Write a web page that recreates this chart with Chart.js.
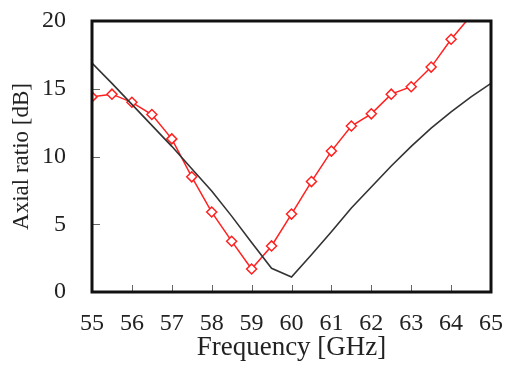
<!DOCTYPE html>
<html>
<head>
<meta charset="utf-8">
<script src="https://cdn.jsdelivr.net/npm/chart.js@4"></script>
<style>
  html, body { margin: 0; padding: 0; background: #fff; }
  canvas { display: block; }
</style>
</head>
<body>
<canvas id="arChart" width="506" height="365"></canvas>
<script>
(function () {
  'use strict';

  // measured axial ratio (red, diamonds)
  const measFreq = [55, 55.5, 56, 56.5, 57, 57.5, 58, 58.5, 59, 59.5, 60, 60.5, 61, 61.5, 62, 62.5, 63, 63.5, 64, 64.5];
  const measAR = [14.4, 14.6, 14.0, 13.1, 11.3, 8.5, 5.9, 3.75, 1.7, 3.4, 5.75, 8.15, 10.4, 12.25, 13.15, 14.6, 15.15, 16.6, 18.65, 20.4];

  // simulated axial ratio (black line)
  const simFreq = [55, 55.5, 56, 56.5, 57, 57.5, 58, 58.5, 59, 59.5, 60, 60.5, 61, 61.5, 62, 62.5, 63, 63.5, 64, 64.5, 65];
  const simAR = [16.9, 15.4, 13.85, 12.3, 10.75, 9.1, 7.45, 5.6, 3.65, 1.75, 1.1, 2.75, 4.45, 6.2, 7.75, 9.3, 10.75, 12.1, 13.3, 14.4, 15.4];

  const xTicks = [55, 56, 57, 58, 59, 60, 61, 62, 63, 64, 65];
  const yTicks = [0, 5, 10, 15, 20];

  const serif = 'Liberation Serif';
  const textColor = '#222';

  function toPoints(xs, ys) {
    return xs.map((x, i) => ({ x: x, y: ys[i] }));
  }

  // box frame + inward ticks
  const framePlugin = {
    id: 'frame',
    afterDatasetsDraw(chart) {
      const ctx = chart.ctx;
      const a = chart.chartArea;
      const xs = chart.scales.x;
      const ys = chart.scales.y;
      ctx.save();
      ctx.strokeStyle = '#666';
      ctx.lineWidth = 1;
      ctx.beginPath();
      xTicks.slice(1, -1).forEach(v => {
        const px = Math.round(xs.getPixelForValue(v)) + 0.5;
        ctx.moveTo(px, a.bottom);
        ctx.lineTo(px, a.bottom - 7);
      });
      yTicks.slice(1, -1).forEach(v => {
        const py = Math.round(ys.getPixelForValue(v)) + 0.5;
        ctx.moveTo(a.left, py);
        ctx.lineTo(a.left + 8, py);
      });
      ctx.stroke();
      ctx.strokeStyle = '#111';
      ctx.lineWidth = 3;
      ctx.strokeRect(a.left, a.top, a.right - a.left, a.bottom - a.top);
      ctx.restore();
    }
  };

  new Chart(document.getElementById('arChart').getContext('2d'), {
    type: 'line',
    data: {
      datasets: [{
        label: 'Simulated',
        data: toPoints(simFreq, simAR),
        borderColor: '#333',
        borderWidth: 1.6,
        pointRadius: 0,
        tension: 0,
        fill: false
      }, {
        label: 'Measured',
        data: toPoints(measFreq, measAR),
        borderColor: '#ff2020',
        borderWidth: 1.5,
        pointStyle: 'rectRot',
        pointRadius: c => (c.raw && c.raw.y > 20 ? 0 : 5),
        pointBorderWidth: 1.5,
        pointBackgroundColor: '#fff',
        pointBorderColor: '#ff2020',
        tension: 0,
        fill: false
      }]
    },
    options: {
      responsive: false,
      animation: false,
      layout: { padding: { left: 0, top: 21, right: 15, bottom: 0 } },
      plugins: {
        legend: { display: false },
        tooltip: { enabled: false }
      },
      scales: {
        x: {
          type: 'linear',
          min: 55,
          max: 65,
          afterFit: s => {
            s.height = 73;
            s.paddingLeft = 0;
            s.paddingRight = 0;
          },
          afterBuildTicks: s => { s.ticks = xTicks.map(v => ({ value: v })); },
          grid: { display: false },
          border: { display: false },
          ticks: {
            maxRotation: 0,
            autoSkip: false,
            padding: 9,
            color: textColor,
            font: { family: serif, size: 24 }
          },
          title: {
            display: true,
            text: 'Frequency [GHz]',
            color: textColor,
            padding: { top: 0, bottom: 1 },
            font: { family: serif, size: 27 }
          }
        },
        y: {
          min: 0,
          max: 20,
          afterFit: s => {
            s.width = 92;
            s.paddingTop = 0;
            s.paddingBottom = 0;
          },
          afterBuildTicks: s => { s.ticks = yTicks.map(v => ({ value: v })); },
          grid: { display: false },
          border: { display: false },
          ticks: {
            padding: 18,
            color: textColor,
            font: { family: serif, size: 24 }
          },
          title: {
            display: true,
            text: 'Axial ratio [dB]',
            color: textColor,
            padding: { top: 8, bottom: 0 },
            font: { family: serif, size: 23 }
          }
        }
      }
    },
    plugins: [framePlugin]
  });
})();
</script>
</body>
</html>
